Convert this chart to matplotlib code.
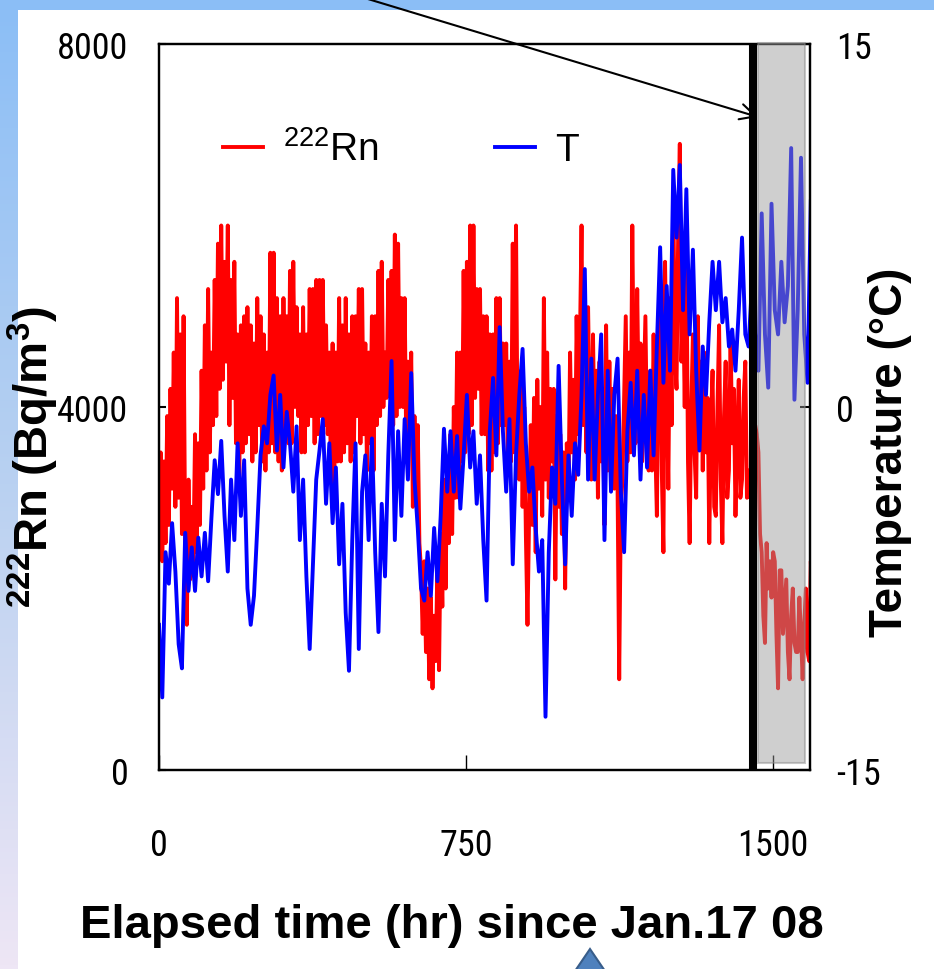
import numpy as np
import matplotlib.pyplot as plt
from matplotlib import font_manager
from matplotlib.colors import LinearSegmentedColormap
from matplotlib.patches import Rectangle, Polygon

# 222Rn concentration (Bq/m3), one reading every 4 hours from Jan.17 08
rn_bq = [
    2800, 3500, 2300, 3400, 2500, 3900, 2700, 4200, 3100, 4600,
    2900, 5200, 3000, 4800, 2600, 5000, 2500, 1600, 3200, 2100,
    2900, 2300, 3700, 2400, 3600, 2700, 4400, 3100, 4900, 3300,
    5300, 3500, 4600, 3800, 5400, 3900, 5800, 4200, 6000, 4300,
    5600, 4500, 6000, 3800, 5400, 4100, 5600, 3600, 4800, 3200,
    4900, 3500, 5000, 3600, 5100, 3700, 4900, 3400, 4700, 3500,
    5200, 3800, 5000, 3400, 4800, 3300, 4600, 3500, 5700, 3600,
    5700, 3500, 5200, 3400, 5000, 3300, 5200, 3700, 5000, 3600,
    5500, 3600, 5600, 4000, 5100, 3900, 4800, 3500, 5100, 3500,
    4800, 3800, 5300, 3900, 5300, 3600, 5400, 3700, 5400, 3900,
    5400, 3800, 4900, 3700, 4600, 3200, 4700, 3100, 4600, 3400,
    5200, 3400, 4900, 3500, 5200, 3600, 4800, 3400, 5000, 3500,
    5000, 3900, 5300, 3600, 5300, 3700, 4700, 3300, 4600, 3600,
    5000, 3300, 5000, 3800, 5500, 3900, 5600, 4000, 4600, 4100,
    5400, 4200, 5500, 3800, 5900, 3900, 5800, 4000, 5200, 4000,
    5200, 3500, 4500, 3600, 4600, 2900, 3900, 3000, 3800, 2500,
    2200, 1500, 2300, 1300, 2000, 1000, 1900, 900, 1700, 1200,
    2300, 1100, 2600, 1800, 3200, 2000, 3400, 2500, 3700, 2600,
    4000, 3000, 4600, 3000, 4600, 3400, 5500, 3500, 5600, 3700,
    6000, 3800, 6000, 4100, 5300, 4200, 5300, 3700, 5000, 3700,
    5000, 3300, 4800, 3300, 4800, 3500, 5200, 3600, 5200, 3800,
    4700, 3800, 4700, 3400, 4500, 3400, 5800, 3500, 6000, 3500,
    3200, 4400, 2900, 4000, 2600, 1600, 2800, 3800, 2700, 4100,
    2400, 4300, 3100, 4000, 2800, 5200, 3200, 4600, 3000, 4200,
    3400, 4200, 2100, 3900, 2900, 3700, 2600, 3500, 2000, 3600,
    3000, 4600, 3500, 4300, 3200, 5000, 3700, 4700, 6000, 3800,
    4600, 3500, 5100, 3900, 3200, 4800, 3600, 4400, 3000, 4500,
    3400, 4200, 2700, 4900, 3300, 4500, 3400, 4200, 3100, 3900,
    3100, 1000, 2900, 3200, 4100, 5000, 3400, 4600, 3500, 6000,
    4100, 3600, 5300, 3900, 4700, 3400, 4200, 5000, 3600, 3300,
    4400, 3300, 4800, 3600, 2800, 4500, 5400, 3300, 2400, 5600,
    4300, 3100, 5200, 3800, 6400, 4600, 4200, 5900, 6900, 4500,
    5300, 4000, 5800, 3400, 2500, 4000, 4800, 3500, 3000, 5000,
    3800, 4500, 3300, 4600, 3500, 4100, 2500, 3800, 4400, 2900,
    2800, 4000, 4900, 3200, 2500, 3900, 4500, 3000, 3300, 4800,
    3600, 4200, 2800, 3700, 4300, 3000, 3200, 4100, 4500, 3000,
    3300, 3000, 3600, 3200, 3800, 3700, 3500, 2600, 2400, 1700,
    1400, 2500, 2000, 2300, 1900, 2400, 2300, 1500, 900, 2200,
    2200, 1500, 1800, 2100, 1300, 1000, 1700, 2000, 1400, 1300,
    1300, 1900, 1500, 1000, 1600, 2000, 1300, 1200, 2300, 1800,
]

# air temperature (deg C), one reading every 8 hours
temp_c = [
    -9.0, -12.0, -6.0, -7.3, -4.8, -6.8, -9.8, -10.8, -5.2, -7.6,
    -5.8, -7.6, -5.4, -7.0, -5.2, -7.2, -4.6, -2.2, -3.6, -1.4,
    -4.5, -6.8, -3.0, -5.5, -1.5, -4.5, -2.2, -7.5, -9.0, -7.8,
    -5.0, -2.0, -0.8, -1.5, 0.5, 1.3, -1.8, 0.5, -2.5, -0.2,
    -1.5, -3.5, -0.8, -5.5, -3.0, -7.0, -10.0, -6.5, -3.0, -1.8,
    -0.5, -4.0, -1.5, -4.8, -2.5, -6.5, -4.0, -8.5, -10.9, -5.5,
    -1.5, -10.0, -3.5, -2.0, -5.5, -1.3, -6.0, -9.3, -4.0, -7.0,
    -2.0, 1.9, -5.5, -1.0, -4.5, -0.5, -3.0, 1.4, -3.0, -5.0,
    -7.5, -8.0, -6.0, -7.8, -5.0, -7.2, -4.5, -0.9, -3.5, -1.0,
    -3.5, -1.2, -4.2, -2.0, 0.5, -2.5, -1.0, -4.0, -2.0, -5.5,
    -8.0, -1.0, 1.2, -2.0, 3.3, -1.0, -3.5, -0.5, -6.5, -2.0,
    0.5, 2.4, -1.5, -3.5, -2.5, -5.0, -6.8, -5.5, -12.8, -6.0,
    -2.5, -4.0, 1.7, -3.0, -6.5, -2.0, -4.5, -1.5, -2.8, 0.5,
    5.7, -3.0, 2.0, -3.0, 0.5, 3.0, -5.5, 1.5, -3.5, 0.5,
    2.0, -3.5, -6.0, -1.0, 1.0, -2.0, 1.5, -3.0, 0.5, -2.5,
    1.5, -2.0, 2.5, 6.6, 1.0, 5.0, 1.5, 9.8, 7.0, 10.0,
    4.0, 9.0, 3.0, 6.5, 1.5, -1.8, 2.5, 0.5, 3.5, 6.0,
    4.0, 6.0, 3.5, 4.5, 2.5, 3.2, 1.5, 4.0, 7.0, 3.0,
    2.5, 5.0, 3.0, 1.5, 8.0, 3.0, 0.8, 8.4, 4.0, 3.0,
    6.0, 3.5, 5.0, 10.7, 0.3, 4.0, 10.3, 3.0, 1.0, 8.5,
]

rn_hours = np.arange(len(rn_bq)) * 4
t_hours = np.arange(len(temp_c)) * 8

x_ticks = [0, 750, 1500]
rn_ticks = [0, 4000, 8000]
t_ticks = [-15, 0, 15]

W, H = 934, 970


def narrow_font():
    fonts = font_manager.fontManager.ttflist
    for name in ('Liberation Sans Narrow', 'Arial Narrow', 'Roboto Condensed', 'Open Sans Condensed'):
        for f in fonts:
            if f.name == name and f.style == 'normal' and f.weight in (400, 'normal', 'regular'):
                return f.fname
    for f in fonts:
        path = f.fname.lower()
        if ('condensed' in path or 'narrow' in path) and 'bold' not in path \
                and 'oblique' not in path and 'italic' not in path and 'mono' not in path:
            return f.fname
    return None


tick_file = narrow_font()
if tick_file:
    tick_font = font_manager.FontProperties(fname=tick_file, size=26)
else:
    tick_font = font_manager.FontProperties(family='Liberation Sans', size=22)

plt.rcParams['font.family'] = 'Liberation Sans'
plt.rcParams['mathtext.fontset'] = 'custom'
plt.rcParams['mathtext.rm'] = 'Liberation Sans'
plt.rcParams['mathtext.bf'] = 'Liberation Sans:bold'
plt.rcParams['mathtext.it'] = 'Liberation Sans:italic'

fig = plt.figure(figsize=(W / 100, H / 100), dpi=100)

# slide background: blue band on top, gradient strip on the left, nav diamond
bg = fig.add_axes([0, 0, 1, 1], zorder=-10)
bg.axis('off')
bg.set_xlim(0, W)
bg.set_ylim(H, 0)
grad = np.linspace(0, 1, 256)[:, None]
edge_cmap = LinearSegmentedColormap.from_list('edge', ['#8BBEF6', '#B9D1F1', '#EEE6F5'])
bg.imshow(grad, extent=(0, 18, H, 0), cmap=edge_cmap, aspect='auto')
bg.add_patch(Rectangle((0, 0), W, 11, color='#8BBEF6', lw=0))
bg.add_patch(Polygon([(590, 950), (607, 975), (590, 1000), (573, 975)],
                     facecolor='#4F81BD', edgecolor='#385D8A', lw=1.5))

ax = fig.add_axes([159 / W, 1 - 771 / H, 651 / W, 726 / H])
rn_line, = ax.plot(rn_hours, rn_bq, color='#FF0000', lw=2.8, label=r'$^{222}$Rn')
ax.set_xlim(0, 1590)
ax.set_ylim(0, 8000)

ax2 = ax.twinx()
t_line, = ax2.plot(t_hours, temp_c, color='#0000FF', lw=2.8, label='T')
ax2.set_ylim(-15, 15)

# shaded period and the marker line
ax2.add_patch(Rectangle((1463, -14.7), 115, 29.75, facecolor='#999999', edgecolor='#888888',
                        alpha=0.47, lw=1.5, zorder=3, clip_on=False))
ax2.axvline(1451, color='black', lw=5.8, zorder=4)

ax2.annotate('', xy=(758, H - 118), xycoords='figure pixels',
             xytext=(358, H + 3), textcoords='figure pixels',
             arrowprops=dict(arrowstyle='->', lw=1.5, color='black',
                             mutation_scale=28, shrinkA=0, shrinkB=0),
             annotation_clip=False)

ax.set_xticks(x_ticks)
ax.set_xticklabels([str(v) for v in x_ticks], fontproperties=tick_font)
ax.set_yticks(rn_ticks)
ax.set_yticklabels([str(v) for v in rn_ticks], fontproperties=tick_font)
ax2.set_yticks(t_ticks)
ax2.set_yticklabels([str(v) for v in t_ticks], fontproperties=tick_font)

ax.tick_params(axis='x', direction='in', length=11, width=1, pad=41)
ax.tick_params(axis='y', direction='in', length=5, width=1.5, pad=22)
ax2.tick_params(axis='y', direction='in', length=7, width=1.5, pad=19)

for a in (ax, ax2):
    for sp in a.spines.values():
        sp.set_linewidth(1.6)
        sp.set_color('black')

ax.set_xlabel('Elapsed time (hr) since Jan.17 08', fontsize=34, fontweight='bold')
ax.xaxis.set_label_coords(0.450, -0.183)
ax.set_ylabel(r'$^{\mathbf{222}}$Rn (Bq/m$^{\mathbf{3}}$)', fontsize=34, fontweight='bold')
ax.yaxis.set_label_coords(-0.151, 0.4325)
ax2.set_ylabel('Temperature (°C)', fontsize=33, fontweight='bold')
ax2.yaxis.set_label_coords(1.089, 0.439)

ax2.legend([rn_line, t_line], [rn_line.get_label(), t_line.get_label()],
           ncol=2, frameon=False, fontsize=28, handlelength=1.03,
           handletextpad=0.51, columnspacing=3.0, borderpad=0, borderaxespad=0,
           loc='center left', bbox_to_anchor=(0.098, 0.855))

fig.savefig('out.png', dpi=100)
